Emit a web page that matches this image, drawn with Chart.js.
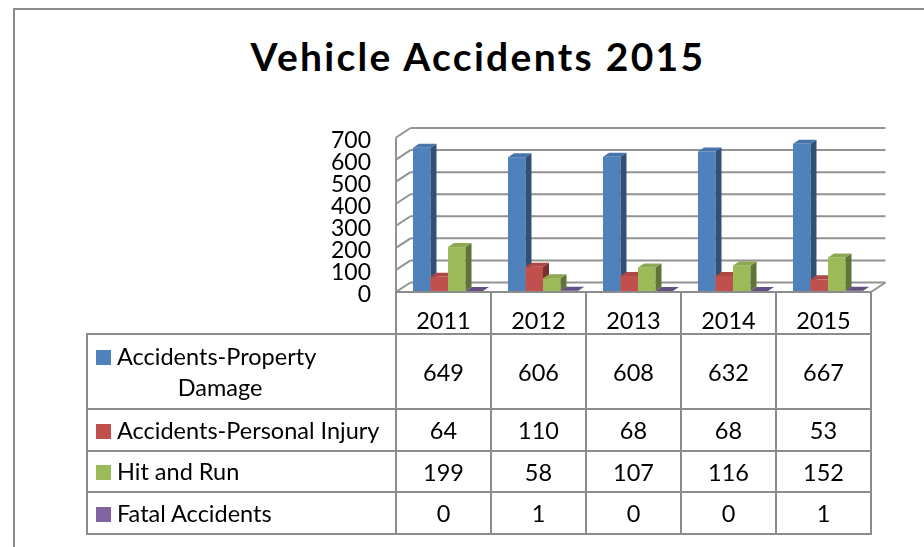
<!DOCTYPE html>
<html><head><meta charset="utf-8">
<script src="https://cdn.jsdelivr.net/npm/chart.js@4"></script>
<style>
html,body{margin:0;padding:0;background:#fff;}
#wrap{position:relative;width:924px;height:547px;overflow:hidden;font-family:Lato,"Open Sans",sans-serif;color:#000;}
#frame{position:absolute;left:13px;top:8px;width:940px;height:560px;border-left:2px solid #8c8c8c;border-top:2px solid #8c8c8c;}
#title{position:absolute;left:0;width:956px;top:38px;line-height:36px;text-align:center;font-weight:bold;font-size:39px;letter-spacing:2.3px;white-space:nowrap;}
canvas{position:absolute;left:0;top:0;}
.ln{position:absolute;background:#8c8c8c;}
.cell{position:absolute;display:flex;align-items:center;justify-content:center;font-size:23.5px;white-space:nowrap;}
.leg{position:absolute;font-size:23.5px;display:flex;align-items:center;}
.leg .in{line-height:31px;}
.mk{display:inline-block;width:15px;height:15px;margin-right:6px;vertical-align:0px;}
</style>
</head><body>
<div id="wrap">
  <div id="frame"></div>
  <div id="title">Vehicle Accidents 2015</div>
  <canvas id="c" width="924" height="547"></canvas>
  <div id="table"></div>
</div>
<script>
// ---- data ----
const categories = ['2011', '2012', '2013', '2014', '2015'];
const seriesNames = ['Accidents-Property Damage', 'Accidents-Personal Injury', 'Hit and Run', 'Fatal Accidents'];
const propertyDamage = [649, 606, 608, 632, 667];
const personalInjury = [64, 110, 68, 68, 53];
const hitAndRun = [199, 58, 107, 116, 152];
const fatalAccidents = [0, 1, 0, 0, 1];
const yMin = 0, yMax = 700, yStep = 100;

// ---- styles ----
const colors = ['#4F81BD', '#C0504D', '#9BBB59', '#8064A2'];
const series = [propertyDamage, personalInjury, hitAndRun, fatalAccidents];
const DX = 14.5, DY = 9.5;     // wall depth
const BDX = 6, BDY = 4;        // bar depth
const SHIFT = 4.5;             // bars sit slightly back in depth
const gridColor = '#929292';

function shade(hex, f) {
  const n = parseInt(hex.slice(1), 16);
  const r = Math.round(((n >> 16) & 255) * f), g = Math.round(((n >> 8) & 255) * f), b = Math.round((n & 255) * f);
  return `rgb(${r},${g},${b})`;
}
function poly(ctx, pts) {
  ctx.beginPath(); ctx.moveTo(pts[0][0], pts[0][1]);
  for (let i = 1; i < pts.length; i++) ctx.lineTo(pts[i][0], pts[i][1]);
  ctx.closePath(); ctx.fill();
}
function line(ctx, x0, y0, x1, y1) { ctx.beginPath(); ctx.moveTo(x0, y0); ctx.lineTo(x1, y1); ctx.stroke(); }

const frame3d = {
  id: 'frame3d',
  beforeDatasetsDraw(chart) {
    const { ctx, chartArea: a, scales: { y } } = chart;
    ctx.save();
    ctx.strokeStyle = gridColor; ctx.lineWidth = 2;
    const b = y.getPixelForValue(yMin), t = y.getPixelForValue(yMax);
    line(ctx, a.left, b, a.left, t);
    y.ticks.forEach(tk => {
      const py = y.getPixelForValue(tk.value);
      line(ctx, a.left, py, a.left + DX, py - DY);
      line(ctx, a.left + DX, py - DY, a.right + DX, py - DY);
    });
    line(ctx, a.left, b, a.right, b);
    line(ctx, a.right, b, a.right + DX, b - DY);
    // bars, drawn category by category, series left to right
    const metas = chart.data.datasets.map((d, i) => chart.getDatasetMeta(i));
    for (let j = 0; j < categories.length; j++) {
      metas.forEach((meta, i) => {
        const el = meta.data[j];
        const p = el.getProps(['x', 'y', 'base', 'width'], true);
        const x0 = p.x - p.width / 2 + SHIFT, x1 = p.x + p.width / 2 + SHIFT;
        const top = Math.min(p.y, p.base) - 1, bot = Math.max(p.y, p.base) - 1;
        const c = colors[i];
        ctx.fillStyle = c; ctx.fillRect(x0, top, x1 - x0, bot - top);
        ctx.fillStyle = shade(c, 0.62);
        poly(ctx, [[x1, top], [x1 + BDX, top - BDY], [x1 + BDX, bot - BDY], [x1, bot]]);
        ctx.fillStyle = bot - top < 1 ? shade(c, 0.8) : shade(c, 0.9);
        poly(ctx, [[x0, top], [x0 + BDX, top - BDY], [x1 + BDX, top - BDY], [x1, top]]);
      });
    }
    ctx.restore();
    return false;
  }
};

function buildTable(chart) {
  const a = chart.chartArea, xs = chart.scales.x;
  const tbl = document.getElementById('table');
  const colW = (a.right - a.left) / categories.length;
  const edges = [];
  for (let i = 0; i <= categories.length; i++) edges.push(a.left + i * colW);
  const headTop = a.bottom, headBot = 334;
  const rowB = [headBot, 409, 451, 492, 534];
  const legL = 87;
  const add = (cls, st, html) => { const d = document.createElement('div'); d.className = cls; Object.assign(d.style, st); if (html != null) d.innerHTML = html; tbl.appendChild(d); return d; };
  // lines
  add('ln', { left: edges[0] - 1 + 'px', top: headTop - 1 + 'px', width: (edges[edges.length - 1] - edges[0] + 2) + 'px', height: '2px' });
  rowB.forEach(yy => add('ln', { left: legL - 1 + 'px', top: yy - 1 + 'px', width: (edges[edges.length - 1] - legL + 2) + 'px', height: '2px' }));
  add('ln', { left: legL - 1 + 'px', top: headBot - 1 + 'px', width: '2px', height: (rowB[4] - headBot + 2) + 'px' });
  edges.forEach(ex => add('ln', { left: ex - 1 + 'px', top: headTop - 1 + 'px', width: '2px', height: (rowB[4] - headTop + 2) + 'px' }));
  // header
  categories.forEach((c, i) => {
    const cx = xs.getPixelForValue(i);
    add('cell', { left: cx - colW / 2 + 'px', width: colW + 'px', top: headTop + 13 + 'px', height: (headBot - headTop - 13) + 'px' }, c);
  });
  // rows
  const wrapW = [248, null, null, null];
  series.forEach((vals, r) => {
    const top = rowB[r], bot = rowB[r + 1];
    const leg = add('leg', { left: '96px', top: top + 'px', height: (bot - top) + 'px' });
    const inner = document.createElement('div'); inner.className = 'in';
    if (wrapW[r]) { inner.style.width = wrapW[r] + 'px'; inner.style.whiteSpace = 'normal'; inner.style.textAlign = 'left'; inner.style.textAlignLast = 'center'; }
    else { inner.style.whiteSpace = 'nowrap'; }
    inner.innerHTML = `<span class="mk" style="background:${colors[r]}"></span>` + seriesNames[r];
    leg.appendChild(inner);
    vals.forEach((v, i) => {
      const cx = xs.getPixelForValue(i);
      add('cell', { left: cx - colW / 2 + 'px', width: colW + 'px', top: top + 'px', height: (bot - top) + 'px' }, String(v));
    });
  });
}

function make() {
  const chart = new Chart(document.getElementById('c'), {
    type: 'bar',
    data: {
      labels: categories,
      datasets: series.map((d, i) => ({ label: seriesNames[i], data: d, backgroundColor: colors[i], categoryPercentage: 0.737, barPercentage: 1 }))
    },
    options: {
      responsive: false, animation: false, devicePixelRatio: 1,
      layout: { padding: { left: 0, right: 53, top: 137.5, bottom: 255 } },
      plugins: { legend: { display: false }, tooltip: { enabled: false }, title: { display: false } },
      scales: {
        x: { display: false, offset: true, grid: { display: false } },
        y: {
          min: yMin, max: yMax,
          ticks: { stepSize: yStep, autoSkip: false, padding: 25, labelOffset: 3, color: '#000', font: { family: 'Lato', size: 23 } },
          grid: { display: false, drawTicks: false }, border: { display: false },
          afterFit(s) { s.width = 396; }
        }
      }
    },
    plugins: [frame3d]
  });
  buildTable(chart);
}
if (document.fonts && document.fonts.load) {
  Promise.all([document.fonts.load('23px Lato'), document.fonts.load('bold 39px Lato')]).then(make, make);
} else make();
</script>
</body></html>
